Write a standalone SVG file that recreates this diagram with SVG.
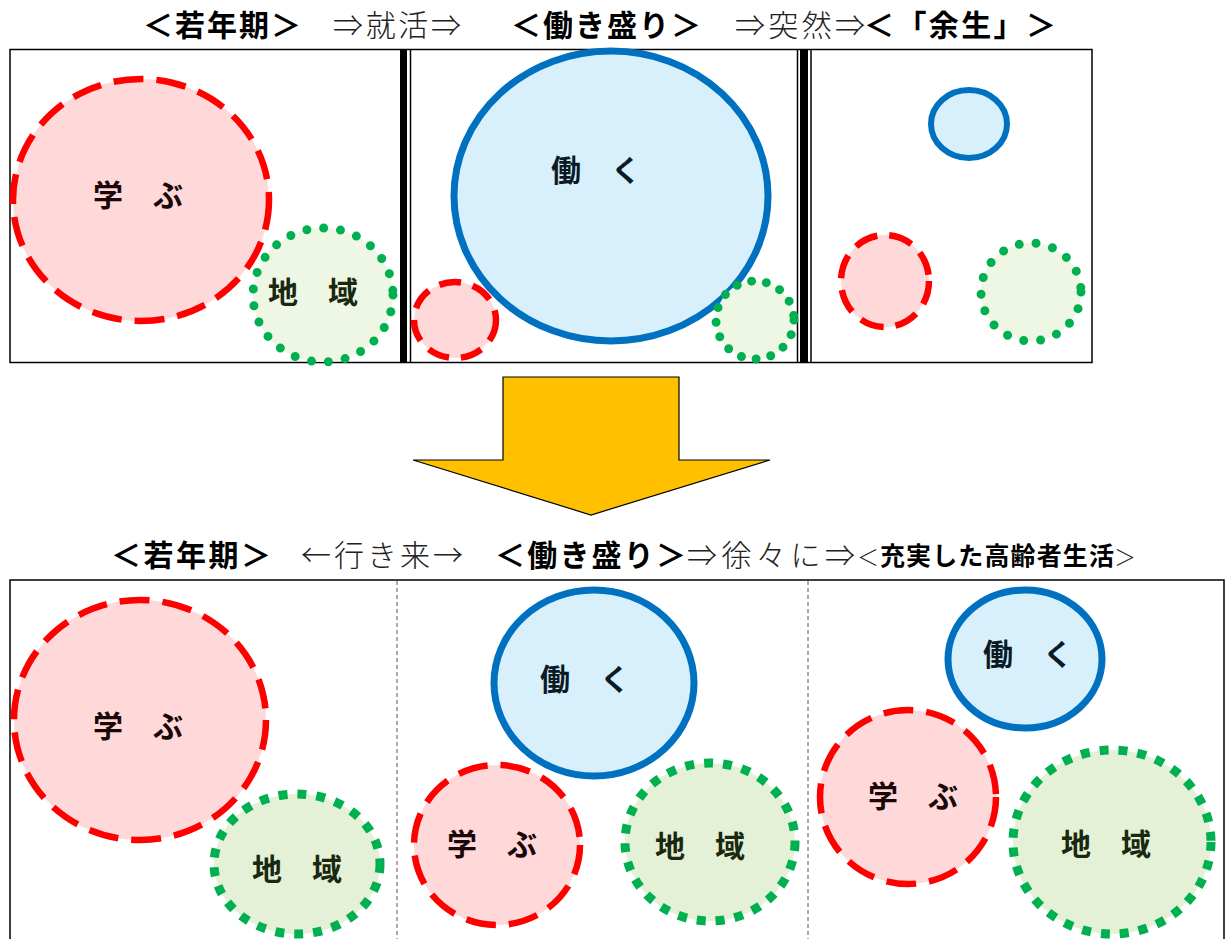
<svg xmlns="http://www.w3.org/2000/svg" width="1227" height="939" viewBox="0 0 1227 939">
<defs>
<style>
.ttl{font-family:"Noto Sans CJK JP","Noto Sans CJK SC",sans-serif;font-size:30px;fill:#000}
.b{font-weight:700}
.n{font-weight:300;fill:#222}
.lbl{font-family:"Noto Sans CJK JP","Noto Sans CJK SC",sans-serif;font-size:30px;font-weight:700;text-anchor:middle}
.learn{fill:#FFD9D9;stroke:#FF0000;stroke-width:6.5;stroke-dasharray:30 13}
.work{fill:#D8F0FB;stroke:#0070C0;stroke-width:7}
.areaT{fill:#EEF6E4;stroke:#00B050;stroke-width:9;stroke-linecap:round;stroke-dasharray:0 17}
.areaB{fill:#E4F1D6;stroke:#00B050;stroke-width:9;stroke-dasharray:9 10}
.tl{fill:#1a0808}.tw{fill:#0a1a26}.ta{fill:#1a2810}
</style>
</defs>
<g id="titles-top">
<text class="ttl b" x="143" y="36" textLength="158">＜若年期＞</text>
<text class="ttl n" x="333" y="36" textLength="128">⇒就活⇒</text>
<text class="ttl b" x="511" y="36" textLength="190">＜働き盛り＞</text>
<text class="ttl n" x="735" y="36" textLength="130">⇒突然⇒</text>
<text class="ttl b" x="864" y="36" textLength="192">＜「余生」＞</text>
</g>
<g id="frame-top" fill="none" stroke="#000">
<rect x="10" y="49.5" width="1082" height="313" stroke-width="1.5"/>
<rect x="400" y="50" width="7" height="312" fill="#000" stroke="none"/>
<line x1="410.5" y1="50" x2="410.5" y2="362" stroke-width="1.5"/>
<line x1="797.5" y1="50" x2="797.5" y2="362" stroke-width="1.5"/>
<rect x="800" y="50" width="8" height="312" fill="#000" stroke="none"/>
<line x1="811" y1="50" x2="811" y2="362" stroke-width="1.5"/>
</g>
<g id="top-young">
<ellipse class="learn" cx="141" cy="200" rx="128" ry="121"/>
<text class="lbl tl" x="138" y="206">学　ぶ</text>
<ellipse class="areaT" cx="323" cy="295" rx="70" ry="67"/>
<text class="lbl ta" x="313" y="303">地　域</text>
</g>
<g id="top-prime">
<ellipse class="learn" cx="455" cy="320" rx="41" ry="38" style="stroke-dasharray:22 12"/>
<ellipse class="work" cx="611" cy="196" rx="157" ry="145"/>
<text class="lbl tw" x="596" y="181">働　く</text>
<ellipse class="areaT" cx="755" cy="320" rx="39" ry="39" style="stroke-dasharray:0 15"/>
</g>
<g id="top-rest">
<ellipse class="work" cx="969" cy="124" rx="38" ry="34" style="stroke-width:6"/>
<ellipse class="learn" cx="885" cy="281" rx="44" ry="46" style="stroke-dasharray:24 12"/>
<ellipse class="areaT" cx="1031" cy="292" rx="50" ry="49"/>
</g>
<g id="arrow">
<path d="M503,377 H679 V460 H770 L591,515 L413,460 H503 Z" fill="#FFC000" stroke="#000" stroke-width="1.2"/>
</g>
<g id="titles-bottom">
<text class="ttl b" x="111" y="566" textLength="160">＜若年期＞</text>
<text class="ttl n" x="301" y="566" textLength="162">←行き来→</text>
<text class="ttl b" x="495" y="566" textLength="191">＜働き盛り＞</text>
<text class="ttl n" x="687" y="566" textLength="168">⇒徐々に⇒</text>
<text class="ttl n" x="857" y="565" style="font-size:22px">＜</text>
<text class="ttl b" x="880" y="565" textLength="234" style="font-size:25px">充実した高齢者生活</text>
<text class="ttl n" x="1114" y="565" style="font-size:22px">＞</text>
</g>
<g id="frame-bottom" fill="none">
<path d="M10,940 V580 H1224 V940" stroke="#000" stroke-width="1.5"/>
<line x1="397" y1="581" x2="397" y2="939" stroke="#555" stroke-width="1" stroke-dasharray="4 3"/>
<line x1="808" y1="581" x2="808" y2="939" stroke="#555" stroke-width="1" stroke-dasharray="4 3"/>
</g>
<g id="bottom-young">
<ellipse class="learn" cx="140" cy="720" rx="126" ry="120"/>
<text class="lbl tl" x="138" y="737">学　ぶ</text>
<ellipse class="areaB" cx="297" cy="864" rx="83" ry="70"/>
<text class="lbl ta" x="297" y="880">地　域</text>
</g>
<g id="bottom-prime">
<ellipse class="work" cx="594" cy="683" rx="100" ry="93"/>
<text class="lbl tw" x="585" y="690">働　く</text>
<ellipse class="learn" cx="497" cy="845" rx="83" ry="80"/>
<text class="lbl tl" x="492" y="855">学　ぶ</text>
<ellipse class="areaB" cx="710" cy="842" rx="85" ry="79"/>
<text class="lbl ta" x="700" y="857">地　域</text>
</g>
<g id="bottom-elder">
<ellipse class="work" cx="1025" cy="659" rx="77" ry="69"/>
<text class="lbl tw" x="1028" y="665">働　く</text>
<ellipse class="learn" cx="908" cy="797" rx="88" ry="87"/>
<text class="lbl tl" x="913" y="807">学　ぶ</text>
<ellipse class="areaB" cx="1112" cy="842" rx="99" ry="92"/>
<text class="lbl ta" x="1106" y="855">地　域</text>
</g>
</svg>
